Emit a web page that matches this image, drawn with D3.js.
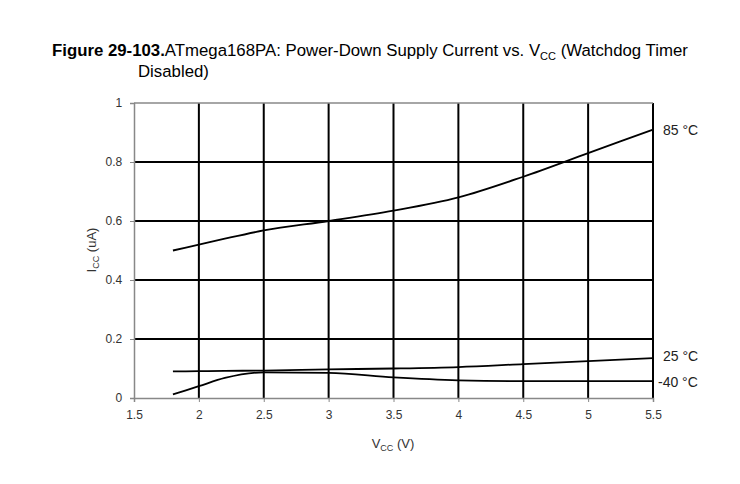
<!DOCTYPE html>
<html><head><meta charset="utf-8">
<script src="https://cdn.jsdelivr.net/npm/d3@7"></script>
<style>body{margin:0;background:#fff}text{font-family:Arial,"Liberation Sans",sans-serif}</style>
</head><body><svg id="c" width="740" height="484"></svg>
<script>
const vcc = [1.8, 2, 2.2, 2.5, 3, 3.5, 4, 4.5, 5, 5.5];
const t85 = [0.50, 0.52, 0.54, 0.568, 0.60, 0.635, 0.68, 0.75, 0.83, 0.91];
const t25 = [0.09, 0.091, 0.092, 0.093, 0.097, 0.10, 0.105, 0.115, 0.125, 0.135];
const tm40 = [0.012, 0.04, 0.068, 0.087, 0.085, 0.07, 0.06, 0.057, 0.057, 0.057];
const seriesNames = ["85 °C", "25 °C", "-40 °C"];
const xTicks = [1.5, 2, 2.5, 3, 3.5, 4, 4.5, 5, 5.5];
const yTicks = [0, 0.2, 0.4, 0.6, 0.8, 1];

const svg = d3.select("#c");
const x = d3.scaleLinear().domain([1.5, 5.5]).range([134, 653]);
const y = d3.scaleLinear().domain([0, 1]).range([398, 103]);

// title
const title = svg.append("text").attr("x", 52).attr("y", 56).attr("font-size", 16.8);
title.append("tspan").attr("font-weight", "bold").text("Figure 29-103.");
title.append("tspan").text("ATmega168PA: Power-Down Supply Current vs. V");
title.append("tspan").attr("font-size", 11).attr("dy", 4).text("CC");
title.append("tspan").attr("dy", -4).text(" (Watchdog Timer");
svg.append("text").attr("x", 138).attr("y", 77).attr("font-size", 16.8).text("Disabled)");

// grid
svg.append("g").selectAll("line").data(xTicks.slice(1)).join("line")
  .attr("x1", d => x(d)).attr("x2", d => x(d)).attr("y1", y(1)).attr("y2", y(0))
  .attr("stroke", "#000").attr("stroke-width", 2);
svg.append("g").selectAll("line").data(yTicks.slice(1, -1)).join("line")
  .attr("x1", x(1.5)).attr("x2", x(5.5)).attr("y1", d => y(d)).attr("y2", d => y(d))
  .attr("stroke", "#000").attr("stroke-width", 2);
svg.append("line").attr("x1", x(1.5)).attr("x2", x(5.5)).attr("y1", y(1)).attr("y2", y(1))
  .attr("stroke", "#888").attr("stroke-width", 1.5);

// axes
const xa = svg.append("g").attr("transform", `translate(0,${y(0)})`)
  .call(d3.axisBottom(x).tickValues(xTicks).tickFormat(d3.format("")).tickSize(4));
const ya = svg.append("g").attr("transform", `translate(${x(1.5)},0)`)
  .call(d3.axisLeft(y).tickValues(yTicks).tickFormat(d3.format("")).tickSize(4));
[xa, ya].forEach(a => {
  a.select(".domain").attr("stroke", "#888").attr("stroke-width", 1.5);
  a.selectAll(".tick line").attr("stroke", "#888");
  a.selectAll("text").attr("font-size", 12).attr("fill", "#333").attr("font-family", "Arial,'Liberation Sans',sans-serif");
});
xa.selectAll("text").attr("dy", "1.2em");
ya.selectAll("text").attr("dx", "-0.4em");

// axis titles
const xt = svg.append("text").attr("x", 393).attr("y", 448).attr("text-anchor", "middle").attr("font-size", 13).attr("fill", "#333");
xt.append("tspan").text("V");
xt.append("tspan").attr("font-size", 9).attr("dy", 3).text("CC");
xt.append("tspan").attr("dy", -3).text(" (V)");
const yt = svg.append("text").attr("transform", "translate(96,250) rotate(-90)").attr("text-anchor", "middle").attr("font-size", 13).attr("fill", "#333");
yt.append("tspan").text("I");
yt.append("tspan").attr("font-size", 9).attr("dy", 3).text("CC");
yt.append("tspan").attr("dy", -3).text(" (uA)");

// lines
const line = d3.line().x((d, i) => x(vcc[i])).y(d => y(d)).curve(d3.curveMonotoneX);
[t85, t25, tm40].forEach(s => {
  svg.append("path").attr("d", line(s)).attr("fill", "none").attr("stroke", "#000").attr("stroke-width", 1.8);
});
const labelY = [t85, t25, tm40].map(s => s[s.length - 1]);
svg.selectAll(".lab").data(seriesNames).join("text")
  .attr("x", (d, i) => i === 2 ? 658 : 663).attr("y", (d, i) => y(labelY[i]) + (i === 1 ? 3 : i === 2 ? 6 : 5))
  .attr("font-size", 14).attr("fill", "#222").text(d => d);
</script></body></html>
